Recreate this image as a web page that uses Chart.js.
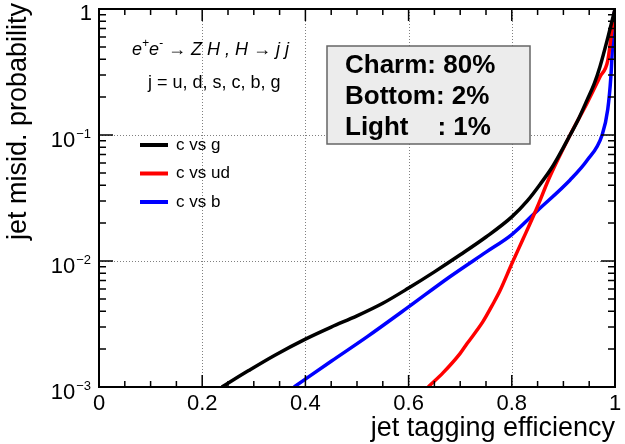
<!DOCTYPE html>
<html>
<head>
<meta charset="utf-8">
<script src="https://cdn.jsdelivr.net/npm/chart.js@4"></script>
<style>
  html, body { margin: 0; padding: 0; background: #fff; }
  #wrap { width: 625px; height: 444px; }
</style>
</head>
<body>
<div id="wrap"><canvas id="rocChart" width="625" height="444"></canvas></div>
<script>
// c-tagging curves, values
const effG = [0.238, 0.29, 0.34, 0.40, 0.45, 0.50, 0.55, 0.60, 0.65, 0.70, 0.75, 0.80, 0.83, 0.855, 0.88, 0.913, 0.93, 0.946, 0.96, 0.971, 0.986, 1.0];
const misG = [0.001, 0.00135, 0.00178, 0.0024, 0.00299, 0.00367, 0.00462, 0.0061, 0.0082, 0.0112, 0.0155, 0.0224, 0.03, 0.0407, 0.057, 0.1, 0.136, 0.19, 0.257, 0.35, 0.59, 1.0];

const effUD = [0.638, 0.667, 0.70, 0.713, 0.744, 0.764, 0.777, 0.80, 0.822, 0.848, 0.874, 0.913, 0.946, 0.971, 0.986, 0.993, 1.0];
const misUD = [0.001, 0.0013, 0.00185, 0.0022, 0.0033, 0.0046, 0.0058, 0.0095, 0.015, 0.026, 0.047, 0.1, 0.18, 0.29, 0.39, 0.63, 1.0];

const effB = [0.378, 0.45, 0.52, 0.60, 0.68, 0.75, 0.80, 0.849, 0.913, 0.946, 0.975, 0.986, 0.992, 0.995, 0.997, 1.0];
const misB = [0.001, 0.0016, 0.00251, 0.00432, 0.0075, 0.01175, 0.0162, 0.025, 0.044, 0.063, 0.1, 0.16, 0.29, 0.5, 0.8, 1.0];

const seriesNames = ['c vs g', 'c vs ud', 'c vs b'];
const seriesColors = ['#000000', '#ff0000', '#0000ff'];

const xTicks = [0, 0.2, 0.4, 0.6, 0.8, 1];
const xTickLabels = ['0', '0.2', '0.4', '0.6', '0.8', '1'];
const yTicks = [1, 0.1, 0.01, 0.001];
const yTickLabels = [['1', ''], ['10', '\u22121'], ['10', '\u22122'], ['10', '\u22123']];

const fractionLines = ['Charm: 80%', 'Bottom: 2%', 'Light    : 1%'];
const processText = ' \u2192 Z H , H \u2192 j j';
const flavourText = 'j = u, d, s, c, b, g';

const FONT = '"Liberation Sans", Arial, Helvetica, sans-serif';

function toPoints(xs, ys) {
    return xs.map(function (x, i) { return {x: x, y: ys[i]}; });
}

// ROOT-like frame, ticks, grid and text
const rootStyle = {
    id: 'rootStyle',
    beforeDatasetsDraw(chart) {
        const ctx = chart.ctx, a = chart.chartArea;
        const xs = chart.scales.x, ys = chart.scales.y;
        ctx.save();
        ctx.strokeStyle = '#808080';
        ctx.lineWidth = 1;
        ctx.setLineDash([1, 2]);
        xTicks.forEach(function (v) {
            if (v === 0 || v === 1) return;
            const px = Math.round(xs.getPixelForValue(v)) + 0.5;
            ctx.beginPath(); ctx.moveTo(px, a.top); ctx.lineTo(px, a.bottom); ctx.stroke();
        });
        yTicks.forEach(function (v) {
            if (v === 1 || v === 0.001) return;
            const py = Math.round(ys.getPixelForValue(v)) + 0.5;
            ctx.beginPath(); ctx.moveTo(a.left, py); ctx.lineTo(a.right, py); ctx.stroke();
        });
        ctx.restore();
    },
    afterDatasetsDraw(chart) {
        const ctx = chart.ctx, a = chart.chartArea;
        const xs = chart.scales.x, ys = chart.scales.y;
        ctx.save();
        ctx.strokeStyle = '#000';
        ctx.fillStyle = '#000';

        // frame
        ctx.lineWidth = 2;
        ctx.strokeRect(a.left, a.top, a.right - a.left, a.bottom - a.top);

        // x ticks (bottom and top), minor every 0.05
        ctx.lineWidth = 1.5;
        for (let i = 0; i <= 20; i++) {
            const v = i * 0.05;
            const px = xs.getPixelForValue(v);
            const len = (i % 4 === 0) ? 12 : 6;
            ctx.beginPath();
            ctx.moveTo(px, a.bottom); ctx.lineTo(px, a.bottom - len);
            ctx.moveTo(px, a.top); ctx.lineTo(px, a.top + len);
            ctx.stroke();
        }
        // y ticks (left and right), log minor ticks
        for (let d = -3; d < 0; d++) {
            for (let k = 1; k <= 9; k++) {
                const v = k * Math.pow(10, d);
                const py = ys.getPixelForValue(v);
                const len = (k === 1) ? 14 : 7;
                ctx.beginPath();
                ctx.moveTo(a.left, py); ctx.lineTo(a.left + len, py);
                ctx.moveTo(a.right, py); ctx.lineTo(a.right - len, py);
                ctx.stroke();
            }
        }

        // x tick labels
        ctx.font = '22px ' + FONT;
        ctx.textAlign = 'center';
        ctx.textBaseline = 'middle';
        xTicks.forEach(function (v, i) {
            ctx.fillText(xTickLabels[i], xs.getPixelForValue(v), a.bottom + 17);
        });

        // y tick labels with superscript exponents
        yTicks.forEach(function (v, i) {
            const py = ys.getPixelForValue(v);
            const base = yTickLabels[i][0], sup = yTickLabels[i][1];
            const right = 91;
            ctx.textAlign = 'left';
            ctx.textBaseline = 'alphabetic';
            ctx.font = '13px ' + FONT;
            const wSup = sup ? ctx.measureText(sup).width : 0;
            ctx.font = '22px ' + FONT;
            const wBase = ctx.measureText(base).width;
            if (!sup) {
                ctx.fillText(base, right + 1 - wBase, py + 11);
                return;
            }
            const x0 = right - wSup - wBase - 1;
            ctx.fillText(base, x0, py + 12);
            ctx.font = '13px ' + FONT;
            ctx.fillText(sup, x0 + wBase + 1, py + 3);
        });

        // axis titles
        ctx.font = '27px ' + FONT;
        ctx.textAlign = 'right';
        ctx.textBaseline = 'alphabetic';
        ctx.fillText('jet tagging efficiency', a.right, 436);
        ctx.save();
        ctx.translate(26, 3);
        ctx.rotate(-Math.PI / 2);
        ctx.textAlign = 'right';
        ctx.fillText('jet misid. probability', 0, 0);
        ctx.restore();

        // process text
        ctx.font = 'italic 18px ' + FONT;
        ctx.textAlign = 'left';
        ctx.textBaseline = 'middle';
        let tx = 132;
        const ty = 50;
        ctx.fillText('e', tx, ty); tx += ctx.measureText('e').width;
        ctx.font = 'italic 12px ' + FONT;
        ctx.fillText('+', tx, ty - 6); tx += ctx.measureText('+').width;
        ctx.font = 'italic 18px ' + FONT;
        ctx.fillText('e', tx, ty); tx += ctx.measureText('e').width;
        ctx.font = 'italic 12px ' + FONT;
        ctx.fillText('-', tx, ty - 6); tx += ctx.measureText('-').width;
        ctx.font = 'italic 18px ' + FONT;
        ctx.fillText(processText, tx, ty);

        ctx.font = '18px ' + FONT;
        ctx.fillText(flavourText, 148, 83);

        // legend
        ctx.font = '17px ' + FONT;
        seriesNames.forEach(function (name, i) {
            const ly = 145 + i * 28.5;
            ctx.strokeStyle = seriesColors[i];
            ctx.lineWidth = 4;
            ctx.beginPath(); ctx.moveTo(140, ly); ctx.lineTo(168, ly); ctx.stroke();
            ctx.fillStyle = '#000';
            ctx.fillText(name, 176, ly);
        });

        // fraction box
        ctx.fillStyle = '#ececec';
        ctx.fillRect(327, 46, 203, 98);
        ctx.strokeStyle = '#666';
        ctx.lineWidth = 1.5;
        ctx.strokeRect(327, 46, 203, 98);
        ctx.fillStyle = '#000';
        ctx.font = 'bold 26px ' + FONT;
        fractionLines.forEach(function (t, i) {
            ctx.fillText(t, 345, 66 + i * 31);
        });

        ctx.restore();
    }
};

const ctx = document.getElementById('rocChart').getContext('2d');
const rocChart = new Chart(ctx, {
    type: 'line',
    data: {
        datasets: [
            {label: seriesNames[0], data: toPoints(effG, misG), borderColor: seriesColors[0]},
            {label: seriesNames[1], data: toPoints(effUD, misUD), borderColor: seriesColors[1]},
            {label: seriesNames[2], data: toPoints(effB, misB), borderColor: seriesColors[2]}
        ]
    },
    options: {
        responsive: false,
        animation: false,
        devicePixelRatio: 1,
        layout: {padding: {left: 99, top: 9, right: 10, bottom: 57}},
        elements: {
            point: {radius: 0},
            line: {borderWidth: 3.5, fill: false, cubicInterpolationMode: 'monotone'}
        },
        scales: {
            x: {type: 'linear', min: 0, max: 1, display: false},
            y: {type: 'logarithmic', min: 0.001, max: 1, display: false}
        },
        plugins: {
            legend: {display: false},
            tooltip: {enabled: false}
        }
    },
    plugins: [rootStyle]
});
</script>
</body>
</html>
